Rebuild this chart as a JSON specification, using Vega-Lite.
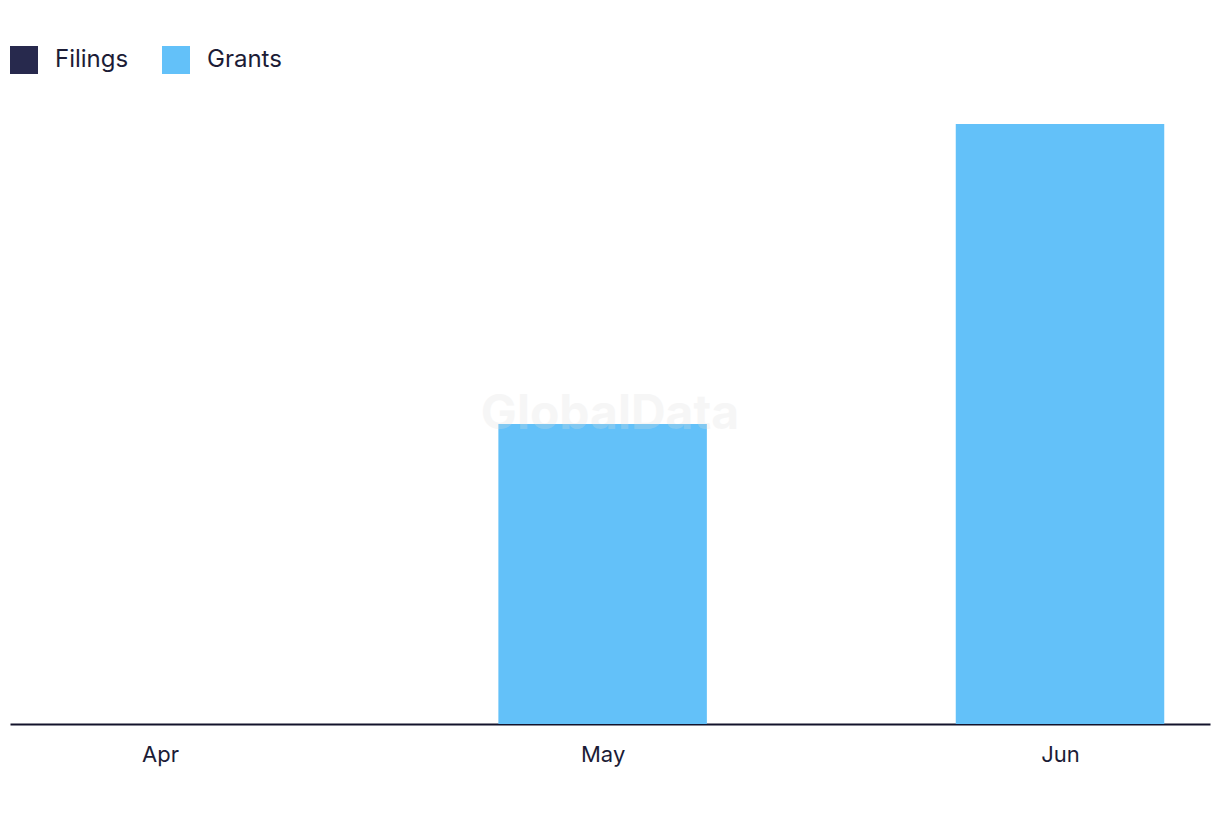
{
  "$schema": "https://vega.github.io/schema/vega-lite/v6.json",
  "width": 1200,
  "height": 600,
  "autosize": {"type": "none"},
  "padding": {"left": 10, "top": 124, "right": 10, "bottom": 98},
  "background": "white",
  "config": {
    "view": {"stroke": null},
    "font": "Inter",
    "text": {"font": "Inter"}
  },
  "layer": [
    {
      "data": {
        "values": [
          {"month": "2024-04-01", "series": "Filings", "count": 0},
          {"month": "2024-04-01", "series": "Grants", "count": 0},
          {"month": "2024-05-01", "series": "Filings", "count": 0},
          {"month": "2024-05-01", "series": "Grants", "count": 1},
          {"month": "2024-06-01", "series": "Filings", "count": 0},
          {"month": "2024-06-01", "series": "Grants", "count": 2}
        ]
      },
      "mark": {"type": "bar", "width": 208.5},
      "encoding": {
        "x": {
          "field": "month",
          "type": "temporal",
          "scale": {
            "type": "utc",
            "domain": [1711051200000, 1718078400000],
            "padding": 0,
            "nice": false
          },
          "axis": {
            "title": null,
            "values": [1711929600000, 1714521600000, 1717200000000],
            "labelExpr": "['Jan','Feb','Mar','Apr','May','Jun','Jul','Aug','Sep','Oct','Nov','Dec'][utcmonth(datum.value)]",
            "grid": false,
            "ticks": false,
            "domainColor": "#13132b",
            "domainWidth": 2,
            "labelFont": "Inter",
            "labelFontSize": 22,
            "labelColor": "#1c1c36",
            "labelPadding": 20
          }
        },
        "y": {
          "field": "count",
          "type": "quantitative",
          "stack": "zero",
          "scale": {"domain": [0, 2], "nice": false},
          "axis": null
        },
        "color": {
          "field": "series",
          "type": "nominal",
          "scale": {"domain": ["Filings", "Grants"], "range": ["#27294d", "#63c1f9"]},
          "legend": {
            "title": null,
            "orient": "none",
            "legendX": 0,
            "legendY": -78,
            "direction": "horizontal",
            "symbolType": "square",
            "symbolSize": 784,
            "symbolStrokeWidth": 0,
            "symbolOpacity": 1,
            "labelFont": "Inter",
            "labelFontSize": 24,
            "labelColor": "#1c1c36",
            "labelOffset": 17,
            "columnPadding": 33,
            "padding": 0
          }
        },
        "order": {"field": "series", "sort": "ascending"}
      }
    },
    {
      "data": {"values": [{"label": "GlobalData"}]},
      "mark": {
        "type": "text",
        "font": "Inter",
        "fontWeight": "bold",
        "fontSize": 48,
        "align": "center",
        "baseline": "alphabetic",
        "color": "#dddddd",
        "opacity": 0.25
      },
      "encoding": {
        "x": {"datum": 1714564800000, "type": "temporal"},
        "y": {"datum": 0.985, "type": "quantitative"},
        "text": {"field": "label"}
      }
    }
  ]
}
